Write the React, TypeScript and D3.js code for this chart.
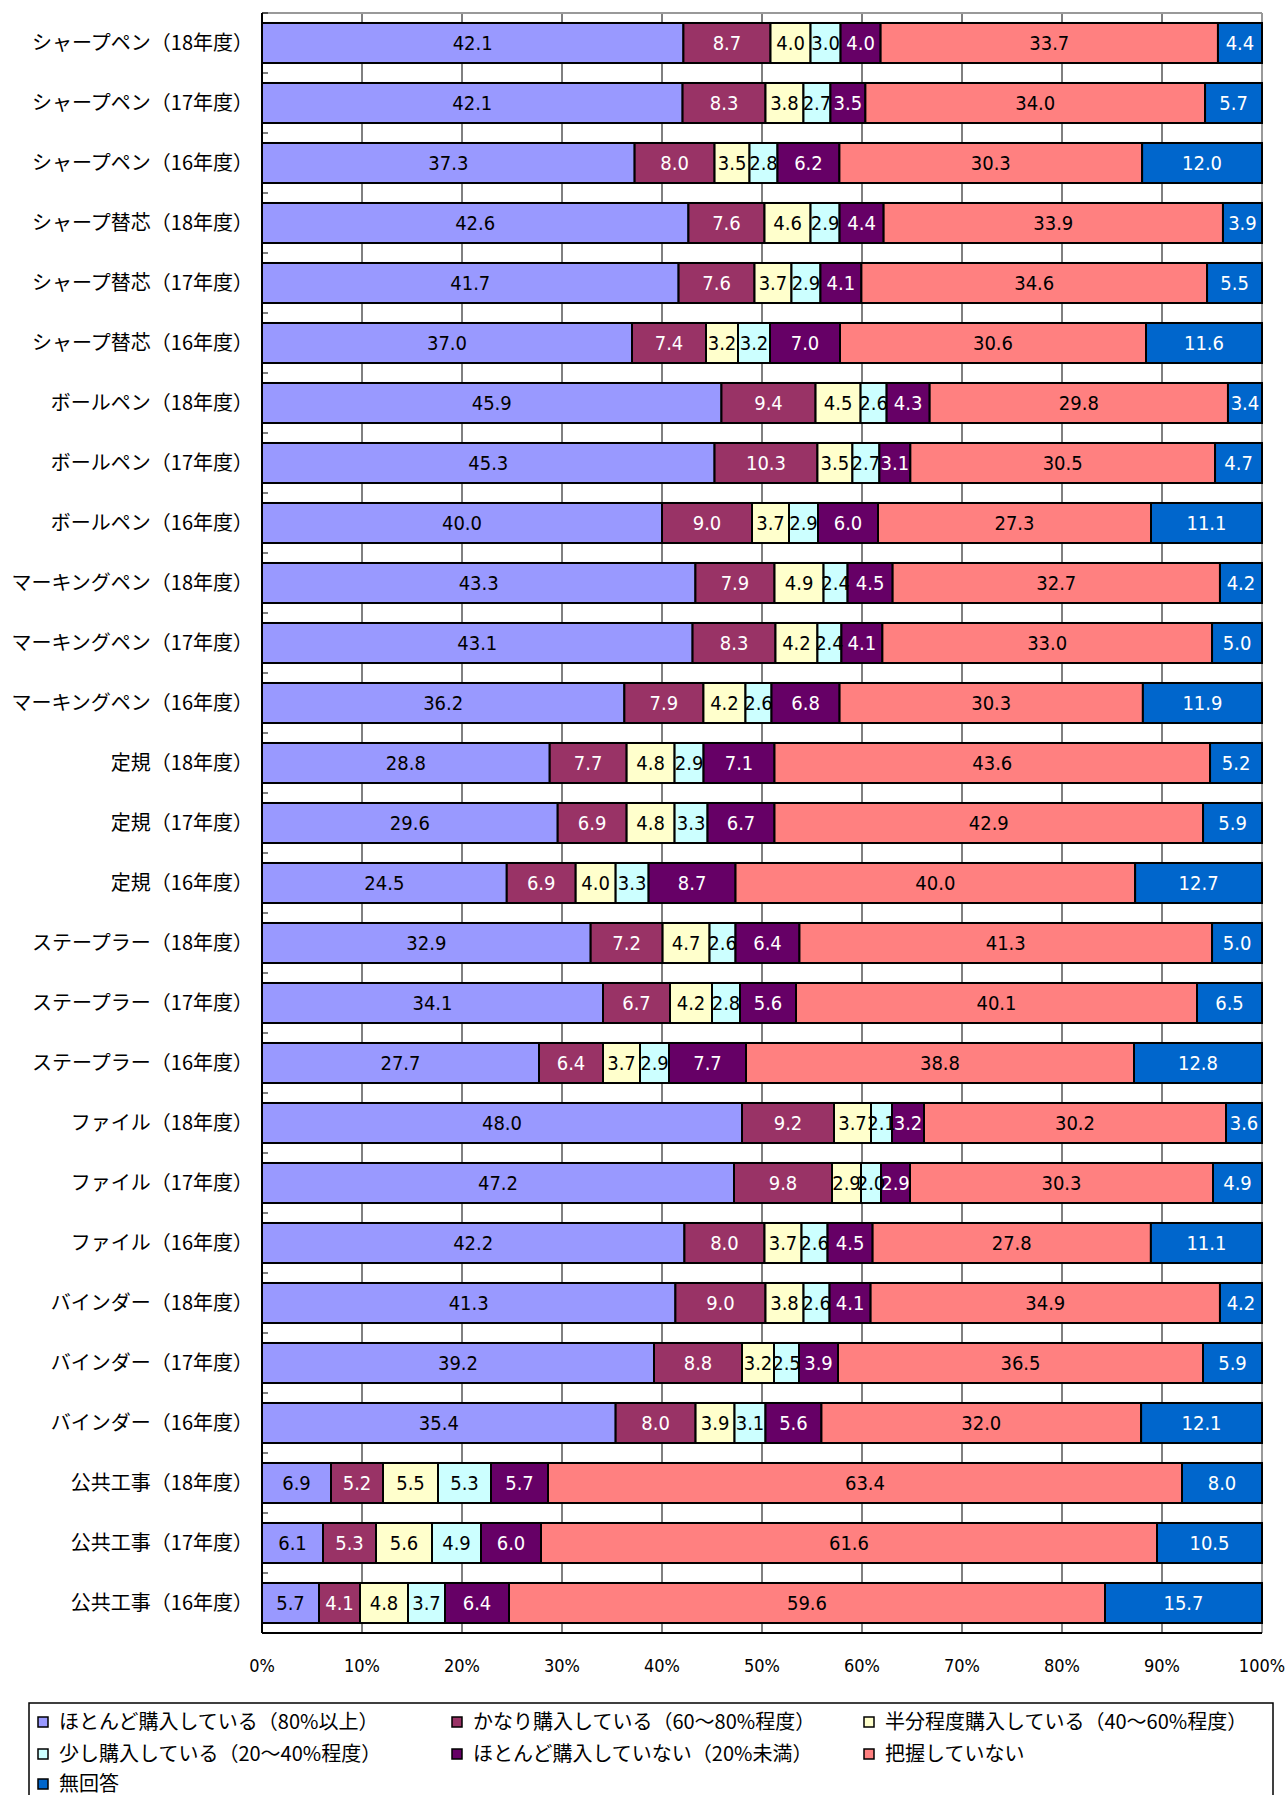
import React from "react";
import * as d3 from "d3";

const categories = [
  "シャープペン（18年度）", "シャープペン（17年度）", "シャープペン（16年度）",
  "シャープ替芯（18年度）", "シャープ替芯（17年度）", "シャープ替芯（16年度）",
  "ボールペン（18年度）", "ボールペン（17年度）", "ボールペン（16年度）",
  "マーキングペン（18年度）", "マーキングペン（17年度）", "マーキングペン（16年度）",
  "定規（18年度）", "定規（17年度）", "定規（16年度）",
  "ステープラー（18年度）", "ステープラー（17年度）", "ステープラー（16年度）",
  "ファイル（18年度）", "ファイル（17年度）", "ファイル（16年度）",
  "バインダー（18年度）", "バインダー（17年度）", "バインダー（16年度）",
  "公共工事（18年度）", "公共工事（17年度）", "公共工事（16年度）",
];

const seriesNames = [
  "ほとんど購入している（80%以上）",
  "かなり購入している（60～80%程度）",
  "半分程度購入している（40～60%程度）",
  "少し購入している（20～40%程度）",
  "ほとんど購入していない（20%未満）",
  "把握していない",
  "無回答",
];

const s1 = [42.1, 42.1, 37.3, 42.6, 41.7, 37.0, 45.9, 45.3, 40.0, 43.3, 43.1, 36.2, 28.8, 29.6, 24.5, 32.9, 34.1, 27.7, 48.0, 47.2, 42.2, 41.3, 39.2, 35.4, 6.9, 6.1, 5.7];
const s2 = [8.7, 8.3, 8.0, 7.6, 7.6, 7.4, 9.4, 10.3, 9.0, 7.9, 8.3, 7.9, 7.7, 6.9, 6.9, 7.2, 6.7, 6.4, 9.2, 9.8, 8.0, 9.0, 8.8, 8.0, 5.2, 5.3, 4.1];
const s3 = [4.0, 3.8, 3.5, 4.6, 3.7, 3.2, 4.5, 3.5, 3.7, 4.9, 4.2, 4.2, 4.8, 4.8, 4.0, 4.7, 4.2, 3.7, 3.7, 2.9, 3.7, 3.8, 3.2, 3.9, 5.5, 5.6, 4.8];
const s4 = [3.0, 2.7, 2.8, 2.9, 2.9, 3.2, 2.6, 2.7, 2.9, 2.4, 2.4, 2.6, 2.9, 3.3, 3.3, 2.6, 2.8, 2.9, 2.1, 2.0, 2.6, 2.6, 2.5, 3.1, 5.3, 4.9, 3.7];
const s5 = [4.0, 3.5, 6.2, 4.4, 4.1, 7.0, 4.3, 3.1, 6.0, 4.5, 4.1, 6.8, 7.1, 6.7, 8.7, 6.4, 5.6, 7.7, 3.2, 2.9, 4.5, 4.1, 3.9, 5.6, 5.7, 6.0, 6.4];
const s6 = [33.7, 34.0, 30.3, 33.9, 34.6, 30.6, 29.8, 30.5, 27.3, 32.7, 33.0, 30.3, 43.6, 42.9, 40.0, 41.3, 40.1, 38.8, 30.2, 30.3, 27.8, 34.9, 36.5, 32.0, 63.4, 61.6, 59.6];
const s7 = [4.4, 5.7, 12.0, 3.9, 5.5, 11.6, 3.4, 4.7, 11.1, 4.2, 5.0, 11.9, 5.2, 5.9, 12.7, 5.0, 6.5, 12.8, 3.6, 4.9, 11.1, 4.2, 5.9, 12.1, 8.0, 10.5, 15.7];

const seriesValues = [s1, s2, s3, s4, s5, s6, s7];
const colors = ["#9999FF", "#993366", "#FFFFCC", "#CCFFFF", "#660066", "#FF8080", "#0066CC"];
const labelColors = ["#000", "#fff", "#000", "#000", "#fff", "#000", "#fff"];
const xTicks = [0, 0.1, 0.2, 0.3, 0.4, 0.5, 0.6, 0.7, 0.8, 0.9, 1.0];

const W = 1287, H = 1795;
const left = 262, right = 1262, top = 13, bottom = 1633;
const jpFont = "'Noto Sans CJK JP', sans-serif";
const numFont = "'Liberation Sans Narrow', 'DejaVu Sans Condensed', 'Noto Sans CJK JP', sans-serif";

export default function App() {
  const x = d3.scaleLinear().domain([0, 1]).range([left, right]);
  const y = d3.scaleBand<string>().domain(categories).range([top, bottom]).paddingInner(0.333).paddingOuter(0.1665);

  const rows = categories.map((c, i) => {
    const vals = seriesValues.map((s) => s[i]);
    const total = d3.sum(vals);
    let acc = 0;
    return vals.map((v, k) => {
      const x0 = acc / total;
      acc += v;
      const x1 = acc / total;
      return { c, k, v, x0, x1 };
    });
  });

  const bandStep = (bottom - top) / categories.length;
  const boundaries = d3.range(categories.length + 1).map((i) => top + i * bandStep);

  const legendCols = [38, 452, 864];
  const legendRows = [1722, 1754, 1784];

  return (
    <svg width={W} height={H} style={{ position: "absolute", left: 0, top: 0, background: "#fff" }}>
      {xTicks.map((t) => (
        <line key={"g" + t} x1={x(t)} x2={x(t)} y1={top} y2={bottom} stroke="#000" strokeWidth={1} />
      ))}
      <line x1={left} x2={right} y1={top} y2={top} stroke="#999" strokeWidth={2} />
      <line x1={right} x2={right} y1={top} y2={bottom} stroke="#999" strokeWidth={2} />
      {rows.map((segs, i) =>
        segs.map((s) => (
          <rect
            key={i + "-" + s.k}
            x={x(s.x0)}
            y={y(s.c)!}
            width={x(s.x1) - x(s.x0)}
            height={y.bandwidth()}
            fill={colors[s.k]}
            stroke="#000"
            strokeWidth={2}
          />
        ))
      )}
      {rows.map((segs, i) =>
        segs.map((s) => (
          <text
            key={"t" + i + "-" + s.k}
            x={(x(s.x0) + x(s.x1)) / 2}
            y={y(s.c)! + y.bandwidth() / 2}
            dy="0.36em"
            textAnchor="middle"
            fontFamily={numFont}
            fontSize={20}
            fill={labelColors[s.k]}
          >
            {s.v.toFixed(1)}
          </text>
        ))
      )}
      <line x1={left} x2={left} y1={top} y2={bottom} stroke="#000" strokeWidth={2} />
      <line x1={left} x2={right} y1={bottom} y2={bottom} stroke="#000" strokeWidth={2} />
      {boundaries.map((b, i) => (
        <line key={"tk" + i} x1={left} x2={left + 6} y1={b} y2={b} stroke="#000" strokeWidth={1} />
      ))}
      {categories.map((c) => (
        <text
          key={"c" + c}
          x={253}
          y={y(c)! + y.bandwidth() / 2}
          dy="0.36em"
          textAnchor="end"
          fontFamily={jpFont}
          fontSize={20}
          fill="#000"
        >
          {c}
        </text>
      ))}
      {xTicks.map((t) => (
        <text
          key={"xl" + t}
          x={x(t)}
          y={1666}
          dy="0.36em"
          textAnchor="middle"
          fontFamily={numFont}
          fontSize={18}
          fill="#000"
        >
          {d3.format(".0%")(t)}
        </text>
      ))}
      <rect x={29} y={1703} width={1244} height={110} fill="#fff" stroke="#000" strokeWidth={1.5} />
      {seriesNames.map((n, k) => {
        const cx = legendCols[k % 3];
        const cy = legendRows[Math.floor(k / 3)];
        return (
          <g key={"lg" + k}>
            <rect x={cx} y={cy - 5} width={10} height={10} fill={colors[k]} stroke="#000" strokeWidth={1.5} />
            <text x={cx + 21} y={cy} dy="0.36em" fontFamily={jpFont} fontSize={20} fill="#000">
              {n}
            </text>
          </g>
        );
      })}
    </svg>
  );
}
